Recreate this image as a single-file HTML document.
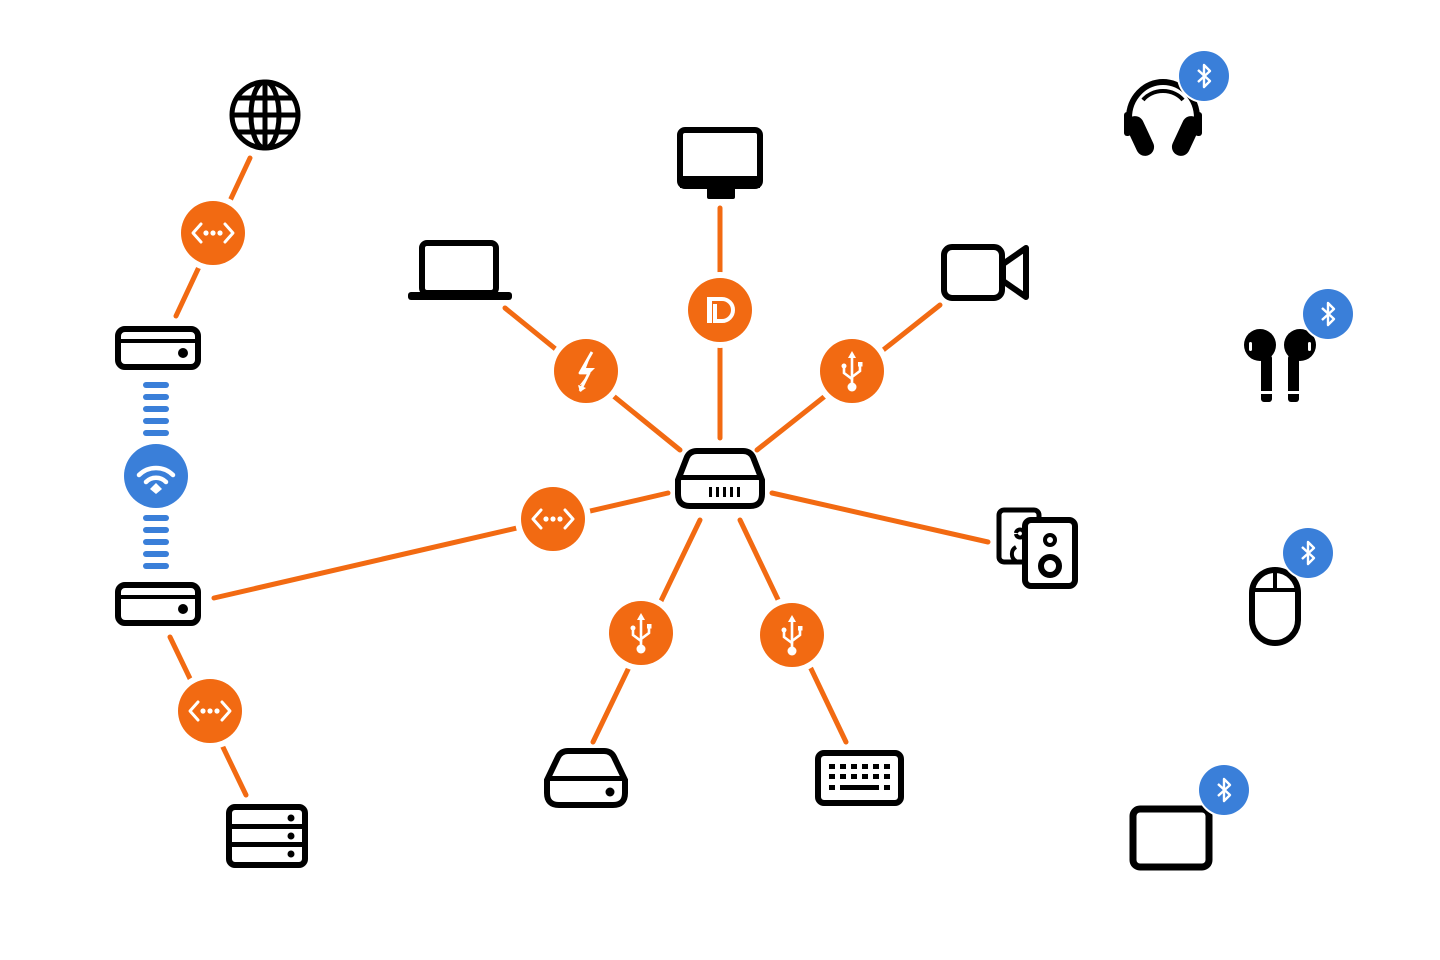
<!DOCTYPE html>
<html><head><meta charset="utf-8"><style>html,body{margin:0;padding:0;background:#fff}svg{display:block}</style></head>
<body>
<svg width="1440" height="960" viewBox="0 0 1440 960" xmlns="http://www.w3.org/2000/svg">
<defs>
<g id="eth"><circle r="32" fill="#f26a12"/><path d="M-12,-9 L-20,0 L-12,9 M12,-9 L20,0 L12,9" fill="none" stroke="#fff" stroke-width="3" stroke-linecap="round" stroke-linejoin="round"/><circle cx="-7" r="2.6" fill="#fff"/><circle cx="0" r="2.6" fill="#fff"/><circle cx="7" r="2.6" fill="#fff"/></g>
<g id="usb"><circle r="32" fill="#f26a12"/><g fill="none" stroke="#fff" stroke-width="2.6" stroke-linecap="round"><path d="M0,-14 L0,14"/><path d="M-8,-4 L-8,2 L0,8"/><path d="M8,-6 L8,0 L0,6"/></g><path d="M0,-20 L-4,-13 L4,-13Z" fill="#fff"/><circle cx="0" cy="16" r="4.5" fill="#fff"/><circle cx="-8" cy="-5" r="2.5" fill="#fff"/><rect x="6" y="-9" width="4.5" height="4.5" fill="#fff"/></g>
<g id="bt"><circle r="27" fill="#fff"/><circle r="25" fill="#3a7fd9"/><path d="M-6,-6 L6,5 L0,11 L0,-11 L6,-5 L-6,6" fill="none" stroke="#fff" stroke-width="2.4" stroke-linejoin="round"/></g>
<g id="router"><rect x="-40" y="-19" width="80" height="38" rx="7" fill="none" stroke="#000" stroke-width="6"/><rect x="-38" y="-9" width="76" height="4" fill="#000"/><circle cx="25" cy="5" r="5" fill="#000"/></g>
</defs>

<g stroke="#f26a12" stroke-width="5" stroke-linecap="round" fill="none">
<line x1="250" y1="158" x2="176" y2="316"/>
<line x1="170" y1="637" x2="246" y2="795"/>
<line x1="668" y1="493" x2="214" y2="598"/>
<line x1="505" y1="308" x2="680" y2="450"/>
<line x1="720" y1="208" x2="720" y2="438"/>
<line x1="940" y1="305" x2="757" y2="450"/>
<line x1="772" y1="493" x2="988" y2="542"/>
<line x1="700" y1="520" x2="593" y2="742"/>
<line x1="740" y1="520" x2="846" y2="742"/>
</g>
<g fill="#fff">
<circle cx="213" cy="233" r="38"/><circle cx="210" cy="711" r="38"/><circle cx="553" cy="519" r="38"/>
<circle cx="586" cy="371" r="38"/><circle cx="720" cy="310" r="38"/><circle cx="852" cy="371" r="38"/>
<circle cx="641" cy="633" r="38"/><circle cx="792" cy="635" r="38"/>
</g>

<g transform="translate(265,115)" fill="none" stroke="#000" stroke-width="5">
<circle r="33"/><ellipse rx="14" ry="33"/><line x1="0" y1="-33" x2="0" y2="33"/><line x1="-33" y1="0" x2="33" y2="0"/>
<path d="M-28,-17 H28 M-28,17 H28"/></g>
<use href="#eth" x="213" y="233"/>
<use href="#router" x="158" y="348"/>
<use href="#router" x="158" y="604"/>
<g fill="#3a7fd9">
<rect x="143" y="382" width="26" height="6" rx="3"/><rect x="143" y="394" width="26" height="6" rx="3"/><rect x="143" y="406" width="26" height="6" rx="3"/><rect x="143" y="418" width="26" height="6" rx="3"/><rect x="143" y="430" width="26" height="6" rx="3"/>
<rect x="143" y="515" width="26" height="6" rx="3"/><rect x="143" y="527" width="26" height="6" rx="3"/><rect x="143" y="539" width="26" height="6" rx="3"/><rect x="143" y="551" width="26" height="6" rx="3"/><rect x="143" y="563" width="26" height="6" rx="3"/>
<circle cx="156" cy="476" r="32"/></g>
<g transform="translate(156,486)" fill="none" stroke="#fff" stroke-width="4.5" stroke-linecap="round">
<path d="M-17,-11 A24,24 0 0 1 17,-11"/><path d="M-10,-4 A14,14 0 0 1 10,-4"/></g>
<path d="M150,489 L156,483 L162,489 L156,494Z" fill="#fff"/>
<use href="#eth" x="210" y="711"/>
<g transform="translate(267,836)"><rect x="-38" y="-29" width="76" height="58" rx="6" fill="none" stroke="#000" stroke-width="6"/><rect x="-38" y="-12" width="76" height="5" fill="#000"/><rect x="-38" y="6" width="76" height="5" fill="#000"/><circle cx="24" cy="-18" r="3.5"/><circle cx="24" cy="0" r="3.5"/><circle cx="24" cy="18" r="3.5"/></g>

<g><path d="M697,451 H743 Q750,451 753,457 L762,480 V494 Q762,506 750,506 H690 Q678,506 678,494 V480 L687,457 Q690,451 697,451Z" fill="none" stroke="#000" stroke-width="6"/><rect x="680" y="475" width="80" height="5" fill="#000"/><g fill="#000"><rect x="709" y="487" width="3" height="10"/><rect x="716" y="487" width="3" height="10"/><rect x="723" y="487" width="3" height="10"/><rect x="730" y="487" width="3" height="10"/><rect x="737" y="487" width="3" height="10"/></g></g>

<rect x="422" y="243" width="74" height="50" rx="5" fill="none" stroke="#000" stroke-width="6"/><rect x="408" y="292" width="104" height="8" rx="3" fill="#000"/>
<circle cx="586" cy="371" r="32" fill="#f26a12"/><path d="M592,352 L580,374 L589,374 L581,391 L584,383 L579,386 L586,377 L595,368 L586,368Z" fill="#fff"/><path d="M592,352 L580,373 L589,373 L580,391" fill="none" stroke="#fff" stroke-width="2.8" stroke-linejoin="round"/><path d="M578,385 L580,392 L586,388Z" fill="#fff"/>

<rect x="680" y="130" width="80" height="56" rx="5" fill="none" stroke="#000" stroke-width="6"/><rect x="680" y="176" width="80" height="12" fill="#000"/><rect x="707" y="186" width="28" height="13" rx="2" fill="#000"/>
<circle cx="720" cy="310" r="32" fill="#f26a12"/><path d="M709,299 H722 A11,11 0 0 1 722,321 H715 V304" fill="none" stroke="#fff" stroke-width="4"/><rect x="707" y="297" width="5" height="26" fill="#fff"/>

<rect x="944" y="247" width="58" height="51" rx="8" fill="none" stroke="#000" stroke-width="6"/><path d="M1003,264 L1026,248 V297 L1003,281Z" fill="none" stroke="#000" stroke-width="6" stroke-linejoin="round"/>
<use href="#usb" x="852" y="371"/>

<use href="#eth" x="553" y="519"/>

<rect x="999" y="510" width="40" height="52" rx="5" fill="none" stroke="#000" stroke-width="5"/>
<rect x="1025" y="520" width="50" height="66" rx="6" fill="#fff" stroke="#000" stroke-width="6"/>
<circle cx="1050" cy="540" r="5" fill="none" stroke="#000" stroke-width="4"/><circle cx="1050" cy="566" r="9" fill="none" stroke="#000" stroke-width="6"/>
<path d="M1016,533 a4,4 0 1 1 0,1 M1016,547 a8,8 0 0 0 0,14" fill="none" stroke="#000" stroke-width="4"/>

<use href="#usb" x="641" y="633"/>
<use href="#usb" x="792" y="635"/>
<path d="M568,751 H604 Q611,751 614,757 L625,780 V793 Q625,805 613,805 H559 Q547,805 547,793 V780 L558,757 Q561,751 568,751Z" fill="none" stroke="#000" stroke-width="6"/><rect x="549" y="776" width="74" height="5" fill="#000"/><circle cx="610" cy="792" r="4.5" fill="#000"/>
<rect x="818" y="753" width="83" height="50" rx="6" fill="none" stroke="#000" stroke-width="6"/>
<g fill="#000"><rect x="829" y="764" width="6" height="5"/><rect x="840" y="764" width="6" height="5"/><rect x="851" y="764" width="6" height="5"/><rect x="862" y="764" width="6" height="5"/><rect x="873" y="764" width="6" height="5"/><rect x="884" y="764" width="6" height="5"/>
<rect x="829" y="774" width="6" height="5"/><rect x="840" y="774" width="6" height="5"/><rect x="851" y="774" width="6" height="5"/><rect x="862" y="774" width="6" height="5"/><rect x="873" y="774" width="6" height="5"/><rect x="884" y="774" width="6" height="5"/>
<rect x="829" y="785" width="6" height="5"/><rect x="840" y="785" width="39" height="5"/><rect x="884" y="785" width="6" height="5"/></g>

<!-- headphones -->
<path d="M1129,128 V118 A34,36 0 0 1 1197,118 V128" fill="none" stroke="#000" stroke-width="6"/>
<path d="M1143,100 A24,20 0 0 1 1183,100" fill="none" stroke="#000" stroke-width="4"/>
<rect x="1124" y="112" width="7" height="24" rx="3" fill="#000"/><rect x="1195" y="112" width="7" height="24" rx="3" fill="#000"/>
<g transform="translate(1140,136) rotate(-25)"><rect x="-9" y="-21" width="18" height="42" rx="9" fill="#000"/></g>
<g transform="translate(1186,136) rotate(25)"><rect x="-9" y="-21" width="18" height="42" rx="9" fill="#000"/></g>
<use href="#bt" x="1204" y="76"/>

<circle cx="1260" cy="345" r="16" fill="#000"/><circle cx="1300" cy="345" r="16" fill="#000"/>
<rect x="1261" y="355" width="11" height="47" rx="3" fill="#000"/><rect x="1288" y="355" width="11" height="47" rx="3" fill="#000"/>
<rect x="1261" y="391" width="11" height="3" fill="#fff"/><rect x="1288" y="391" width="11" height="3" fill="#fff"/>
<rect x="1249" y="342" width="3" height="9" rx="1.5" fill="#fff"/><rect x="1308" y="342" width="3" height="9" rx="1.5" fill="#fff"/>
<use href="#bt" x="1328" y="314"/>

<rect x="1252" y="570" width="46" height="73" rx="23" fill="none" stroke="#000" stroke-width="6"/><line x1="1252" y1="590" x2="1298" y2="590" stroke="#000" stroke-width="4"/><line x1="1275" y1="570" x2="1275" y2="590" stroke="#000" stroke-width="4"/>
<use href="#bt" x="1308" y="553"/>

<rect x="1133" y="809" width="76" height="58" rx="7" fill="none" stroke="#000" stroke-width="7"/>
<use href="#bt" x="1224" y="790"/>
</svg>
</body></html>
